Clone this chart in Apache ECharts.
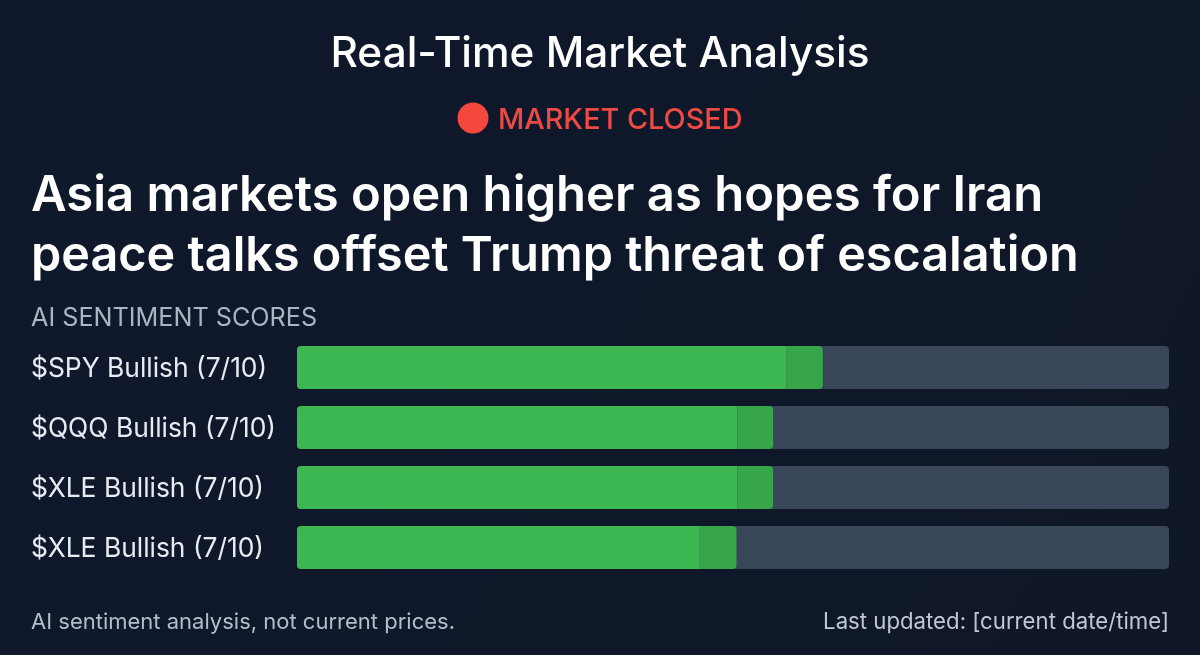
<!DOCTYPE html>
<html>
<head>
<meta charset="utf-8">
<style>html,body{margin:0;padding:0;background:#0f172a}#c{width:1200px;height:655px}</style>
<script src="https://cdn.jsdelivr.net/npm/echarts@6/dist/echarts.min.js"></script>
</head>
<body>
<div id="c"></div>
<script>
const categories = ["$SPY Bullish (7/10)", "$QQQ Bullish (7/10)", "$XLE Bullish (7/10)", "$XLE Bullish (7/10)"];
const solidValues = [56.1, 50.5, 50.5, 46.1];
const tipValues = [4.2, 4.1, 4.1, 4.3];
const trackValues = [100, 100, 100, 100];
const chartTitle = "Real-Time Market Analysis";
const statusText = "MARKET CLOSED";
const headlineLines = ["Asia markets open higher as hopes for Iran", "peace talks offset Trump threat of escalation"];
const sectionLabel = "AI SENTIMENT SCORES";
const footLeft = "AI sentiment analysis, not current prices.";
const footRight = "Last updated: [current date/time]";

const font = "Inter";
const chart = echarts.init(document.getElementById("c"), null, {renderer: "canvas"});
function txt(text, x, cy, size, color, weight, align) {
  return {type: "text", x: x, y: cy, silent: true,
    style: {text: text, fontFamily: font, fontSize: size, fontWeight: weight, fill: color,
      align: align || "left", verticalAlign: "middle"}};
}
chart.setOption({
  animation: false,
  backgroundColor: new echarts.graphic.LinearGradient(0, 0, 1, 1, [
    {offset: 0, color: "#0f192c"}, {offset: 1, color: "#0f1727"}]),
  grid: {left: 297, right: 31, top: 337.5, height: 240},
  xAxis: {type: "value", min: 0, max: 100, show: false},
  yAxis: {type: "category", inverse: true, data: categories,
    axisLine: {show: false}, axisTick: {show: false}, splitLine: {show: false},
    axisLabel: {align: "left", margin: 266, formatter: "{a|{value}}",
      rich: {a: {color: "#e8ecf2", fontFamily: font, fontSize: 26.4, fontWeight: 400,
        padding: [4, 0, 0, 0]}}}},
  series: [
    {type: "bar", data: trackValues, barWidth: 43, barGap: "-100%", silent: true,
      itemStyle: {color: "#394558", borderRadius: 4}},
    {type: "bar", stack: "score", data: solidValues, barWidth: 43, silent: true,
      itemStyle: {color: "#3db751", borderRadius: [4, 0, 0, 4]}},
    {type: "bar", stack: "score", data: tipValues, barWidth: 43, silent: true,
      itemStyle: {color: "#37a549", borderRadius: [0, 4, 4, 0]}}
  ],
  graphic: [
    txt(chartTitle, 600, 54, 42.3, "#ffffff", 500, "center"),
    {type: "circle", silent: true, shape: {cx: 473, cy: 118, r: 15.5}, style: {fill: "#f4473e"}},
    txt(statusText, 498, 120, 28.8, "#ee4a43", 500),
    txt(headlineLines[0], 31, 196, 49, "#ffffff", 600),
    txt(headlineLines[1], 31, 256, 48.5, "#ffffff", 600),
    txt(sectionLabel, 31, 318, 25.2, "#aab4c3", 400),
    txt(footLeft, 31, 622, 22, "#b4bdca", 400),
    txt(footRight, 1169, 622, 22.2, "#c0c8d4", 400, "right")
  ]
});
</script>
</body>
</html>
